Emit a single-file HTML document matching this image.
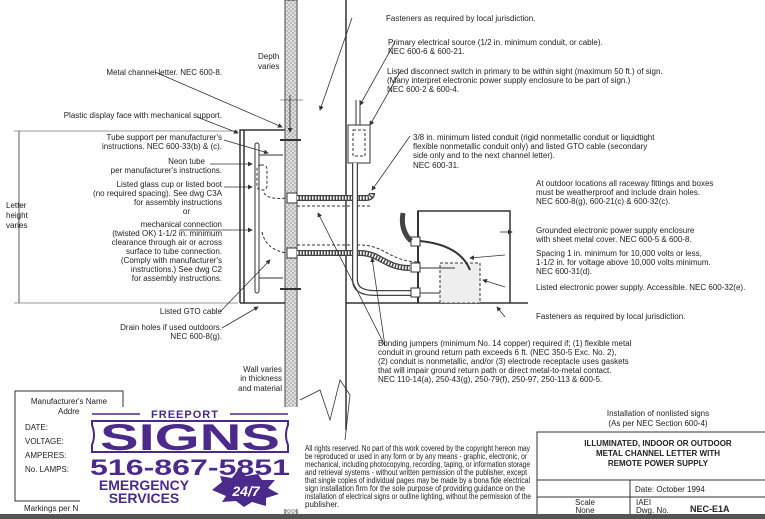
<!DOCTYPE html>
<html><head><meta charset="utf-8"><style>
html,body{margin:0;padding:0;background:#fff}
svg{display:block}
text{font-family:"Liberation Sans",sans-serif;font-size:8px;fill:#222}
.r{text-anchor:end}
.c{text-anchor:middle}
</style></head><body>
<svg width="765" height="519" viewBox="0 0 765 519" xmlns="http://www.w3.org/2000/svg">
<defs>
<pattern id="st" width="4" height="4" patternUnits="userSpaceOnUse"><rect width="4" height="4" fill="#e0e0e0"/><circle cx="1" cy="1" r=".7" fill="#777"/><circle cx="3" cy="3" r=".7" fill="#888"/></pattern>
<marker id="a" markerWidth="6" markerHeight="6" refX="5" refY="3" orient="auto"><path d="M0,0L6,3L0,6z" fill="#333"/></marker>
</defs>
<g stroke="#333" fill="none" stroke-width="1">
<rect x="285" y="0" width="12" height="519" fill="url(#st)" stroke="#444"/>
<line x1="346" y1="0" x2="346" y2="430" stroke-width="1.5"/>
<line x1="346" y1="303" x2="528" y2="303" stroke-width="1.5"/>
<path d="M240,303V130H285" stroke-width="1.5"/><line x1="244" y1="130" x2="244" y2="303" stroke-width="1.5"/>
<line x1="240" y1="303" x2="285" y2="303" stroke-width="1.5"/>
<rect x="255" y="143" width="4" height="150" rx="2"/>
<rect x="257" y="165" width="10" height="25" rx="4" stroke-dasharray="3,2"/>
<line x1="259" y1="155" x2="283" y2="155"/><line x1="259" y1="278" x2="283" y2="278"/>
<line x1="280" y1="140" x2="301" y2="140" stroke-width="2"/><line x1="280" y1="289" x2="301" y2="289" stroke-width="2"/>
<rect x="287" y="193" width="10" height="10" fill="#fff"/><rect x="287" y="248" width="10" height="10" fill="#fff"/>
<path d="M297,198H366Q372,198 372,193" stroke="#444" stroke-width="6"/>
<path d="M297,198H366Q372,198 372,193" stroke="#fff" stroke-width="3.5" stroke-dasharray="1.5,1.5"/>
<path d="M297,253H360C380,253 385,268 410,268" stroke="#444" stroke-width="6"/>
<path d="M297,253H360C380,253 385,268 410,268" stroke="#fff" stroke-width="3.5" stroke-dasharray="1.5,1.5"/>
<path d="M264,193Q268,200 287,198M262,232Q266,250 287,253" stroke-dasharray="3,2"/>
<path d="M297,206H370M297,245H360C385,245 390,262 420,262" stroke-dasharray="3,2"/>
<rect x="348" y="125" width="22" height="38" fill="#fff"/><rect x="353" y="130" width="12" height="26" stroke-dasharray="3,2"/>
<path d="M355,163V280Q355,293 375,293H418" stroke-width="6" stroke="#444"/>
<path d="M355,163V280Q355,293 375,293H418" stroke-width="3.5" stroke="#fff"/>
<path d="M356,100V125M360,100V125"/>
<path d="M418,303V211H510V303" stroke-width="1.5"/>
<line x1="418" y1="211" x2="418" y2="303" stroke-width="2"/>
<rect x="440" y="263" width="40" height="40" fill="#eee" stroke-dasharray="3,2"/>
<rect x="411" y="237" width="9" height="9" fill="#fff"/><rect x="411" y="263" width="9" height="9" fill="#fff"/><rect x="411" y="288" width="9" height="9" fill="#fff"/>
<path d="M403,213Q400,230 411,241" stroke="#444" stroke-width="5"/>
<path d="M420,241Q460,245 470,270" stroke-width="2"/>
<path d="M420,268H455"/><path d="M420,293H440"/>
<g marker-end="url(#a)" stroke-width=".8">
<line x1="155" y1="72" x2="282" y2="127"/>
<line x1="197" y1="117" x2="238" y2="133"/>
<line x1="224" y1="140" x2="268" y2="153"/>
<line x1="210" y1="164" x2="252" y2="164"/>
<line x1="224" y1="187" x2="252" y2="187"/>
<line x1="180" y1="230" x2="252" y2="230"/>
<line x1="220" y1="312" x2="270" y2="260"/>
<line x1="222" y1="328" x2="258" y2="307"/>
<line x1="290" y1="95" x2="290" y2="132"/>
<line x1="352" y1="18" x2="320" y2="110"/>
<line x1="395" y1="42" x2="360" y2="105"/>
<line x1="400" y1="72" x2="370" y2="125"/>
<line x1="410" y1="136" x2="372" y2="190"/>
<line x1="385" y1="346" x2="318" y2="213"/>
<line x1="385" y1="346" x2="372" y2="258"/>
<line x1="500" y1="232" x2="512" y2="232"/>
<line x1="505" y1="255" x2="470" y2="258"/>
<line x1="505" y1="287" x2="483" y2="280"/>
<line x1="505" y1="317" x2="497" y2="307"/>
</g>
<line x1="19" y1="131" x2="19" y2="303" stroke-width=".8"/>
<line x1="14" y1="131" x2="238" y2="131" stroke-width=".6"/><line x1="14" y1="303" x2="238" y2="303" stroke-width=".6"/>
<line x1="280" y1="100" x2="303" y2="100" stroke-width=".6"/>
<path d="M300,400L320,390L330,420L340,380L350,395L345,440" stroke-width=".8"/>
<rect x="15" y="391" width="108" height="110" stroke-width="1"/>
<path d="M537,518V432H765M537,480H765M537,497H765M630,480V518" stroke-width="1"/>
</g>
<rect x="0" y="514" width="765" height="5" fill="#555"/>
<text class="r" x="222" y="75">Metal channel letter. NEC 600-8.</text>
<text class="r" x="222" y="118">Plastic display face with mechanical support.</text>
<text class="r" x="222" y="140">Tube support per manufacturer's</text>
<text class="r" x="222" y="149">instructions. NEC 600-33(b) &amp; (c).</text>
<text class="r" x="205" y="164">Neon tube</text>
<text class="r" x="222" y="173">per manufacturer's instructions.</text>
<text class="r" x="222" y="187">Listed glass cup or listed boot</text>
<text class="r" x="222" y="196">(no required spacing). See dwg C3A</text>
<text class="r" x="222" y="205">for assembly instructions</text>
<text class="r" x="190" y="214">or</text>
<text class="r" x="222" y="227">mechanical connection</text>
<text class="r" x="222" y="236">(twisted OK) 1-1/2 in. minimum</text>
<text class="r" x="222" y="245">clearance through air or across</text>
<text class="r" x="222" y="254">surface to tube connection.</text>
<text class="r" x="222" y="263">(Comply with manufacturer's</text>
<text class="r" x="222" y="272">instructions.) See dwg C2</text>
<text class="r" x="222" y="281">for assembly instructions.</text>
<text class="r" x="222" y="314">Listed GTO cable</text>
<text class="r" x="222" y="330">Drain holes if used outdoors.</text>
<text class="r" x="222" y="339">NEC 600-8(g).</text>
<text x="6" y="208">Letter</text><text x="6" y="218">height</text><text x="6" y="228">varies</text>
<text x="258" y="59">Depth</text><text x="258" y="69">varies</text>
<text class="r" x="282" y="372">Wall varies</text><text class="r" x="282" y="381">in thickness</text><text class="r" x="282" y="391">and material</text>
<text x="386" y="21">Fasteners as required by local jurisdiction.</text>
<text x="388" y="45">Primary electrical source (1/2 in. minimum conduit, or cable).</text>
<text x="388" y="54">NEC 600-6 &amp; 600-21.</text>
<text x="387" y="74">Listed disconnect switch in primary to be within sight (maximum 50 ft.) of sign.</text>
<text x="387" y="83">(Many interpret electronic power supply enclosure to be part of sign.)</text>
<text x="387" y="92">NEC 600-2 &amp; 600-4.</text>
<text x="413" y="140">3/8 in. minimum listed conduit (rigid nonmetallic conduit or liquidtight</text>
<text x="413" y="149">flexible nonmetallic conduit only) and listed GTO cable (secondary</text>
<text x="413" y="158">side only and to the next channel letter).</text>
<text x="413" y="168">NEC 600-31.</text>
<text x="536" y="186">At outdoor locations all raceway fittings and boxes</text>
<text x="536" y="195">must be weatherproof and include drain holes.</text>
<text x="536" y="204">NEC 600-8(g), 600-21(c) &amp; 600-32(c).</text>
<text x="536" y="233">Grounded electronic power supply enclosure</text>
<text x="536" y="242">with sheet metal cover. NEC 600-5 &amp; 600-8.</text>
<text x="536" y="256">Spacing 1 in. minimum for 10,000 volts or less,</text>
<text x="536" y="265">1-1/2 in. for voltage above 10,000 volts minimum.</text>
<text x="536" y="274">NEC 600-31(d).</text>
<text x="536" y="290">Listed electronic power supply. Accessible. NEC 600-32(e).</text>
<text x="536" y="319">Fasteners as required by local jurisdiction.</text>
<text x="378" y="346">Bonding jumpers (minimum No. 14 copper) required if; (1) flexible metal</text>
<text x="378" y="355">conduit in ground return path exceeds 6 ft. (NEC 350-5 Exc. No. 2),</text>
<text x="378" y="364">(2) conduit is nonmetallic, and/or (3) electrode receptacle uses gaskets</text>
<text x="378" y="373">that will impair ground return path or direct metal-to-metal contact.</text>
<text x="378" y="382">NEC 110-14(a), 250-43(g), 250-79(f), 250-97, 250-113 &amp; 600-5.</text>
<text class="c" x="69" y="404">Manufacturer's Name</text>
<text x="58" y="414">Address</text>
<text x="25" y="430">DATE:</text><text x="25" y="444">VOLTAGE:</text><text x="25" y="458">AMPERES:</text><text x="25" y="472">No. LAMPS:</text>
<text x="24" y="511">Markings per N</text>
<g style="font-size:6px">
<text x="305" y="451" textLength="225" lengthAdjust="spacingAndGlyphs">All rights reserved. No part of this work covered by the copyright hereon may</text>
<text x="305" y="459" textLength="222" lengthAdjust="spacingAndGlyphs">be reproduced or used in any form or by any means - graphic, electronic, or</text>
<text x="305" y="467" textLength="225" lengthAdjust="spacingAndGlyphs">mechanical, including photocopying, recording, taping, or information storage</text>
<text x="305" y="475" textLength="222" lengthAdjust="spacingAndGlyphs">and retrieval systems - without written permission of the publisher, except</text>
<text x="305" y="483" textLength="225" lengthAdjust="spacingAndGlyphs">that single copies of individual pages may be made by a bona fide electrical</text>
<text x="305" y="491" textLength="220" lengthAdjust="spacingAndGlyphs">sign installation firm for the sole purpose of providing guidance on the</text>
<text x="305" y="499" textLength="226" lengthAdjust="spacingAndGlyphs">installation of electrical signs or outline lighting, without the permission of the</text>
<text x="305" y="507">publisher.</text>
</g>
<text class="c" x="658" y="416">Installation of nonlisted signs</text>
<text class="c" x="658" y="426">(As per NEC Section 600-4)</text>
<text class="c" x="658" y="446" style="font-weight:bold">ILLUMINATED, INDOOR OR OUTDOOR</text>
<text class="c" x="658" y="456" style="font-weight:bold">METAL CHANNEL LETTER WITH</text>
<text class="c" x="658" y="466" style="font-weight:bold">REMOTE POWER SUPPLY</text>
<text x="635" y="492">Date: October 1994</text>
<text class="c" x="585" y="505">Scale</text><text class="c" x="585" y="513">None</text>
<text x="636" y="505">IAEI</text><text x="636" y="513">Dwg. No.</text>
<text x="690" y="512" style="font-weight:bold;font-size:9px">NEC-E1A</text>
<rect x="80" y="407" width="219" height="102" fill="#fff"/>
<line x1="92" y1="414" x2="140" y2="414" stroke="#4b2a8c" stroke-width="1.5"/>
<line x1="230" y1="414" x2="288" y2="414" stroke="#4b2a8c" stroke-width="1.5"/>
<text class="c" x="185" y="418" style="font-size:11px;font-weight:bold;fill:#4b2a8c;letter-spacing:1px">FREEPORT</text>
<path d="M92,421H288V425Q284,435 288,445V452H92V445Q96,435 92,425Z" fill="#fff" stroke="#4b2a8c" stroke-width="2"/>
<text class="c" x="190" y="450" style="font-size:37px;font-weight:bold;fill:#4b2a8c" textLength="180" lengthAdjust="spacingAndGlyphs">SIGNS</text>
<text class="c" x="190" y="475" style="font-size:22px;font-weight:bold;fill:#4b2a8c" textLength="200" lengthAdjust="spacingAndGlyphs">516-867-5851</text>
<text class="c" x="144" y="490" style="font-size:14px;font-weight:bold;fill:#4b2a8c">EMERGENCY</text>
<text class="c" x="144" y="503" style="font-size:14px;font-weight:bold;fill:#4b2a8c">SERVICES</text>
<path d="M212,490L222,482L220,476L232,478L238,470L246,476L258,474L262,480L275,480L268,488L279,494L266,498L266,506L252,502L244,507L236,501L222,502L226,496Z" fill="#4b2a8c"/>
<text class="c" x="246" y="496" style="font-size:14px;font-weight:bold;font-style:italic;fill:#fff">24/7</text>
</svg>
</body></html>
